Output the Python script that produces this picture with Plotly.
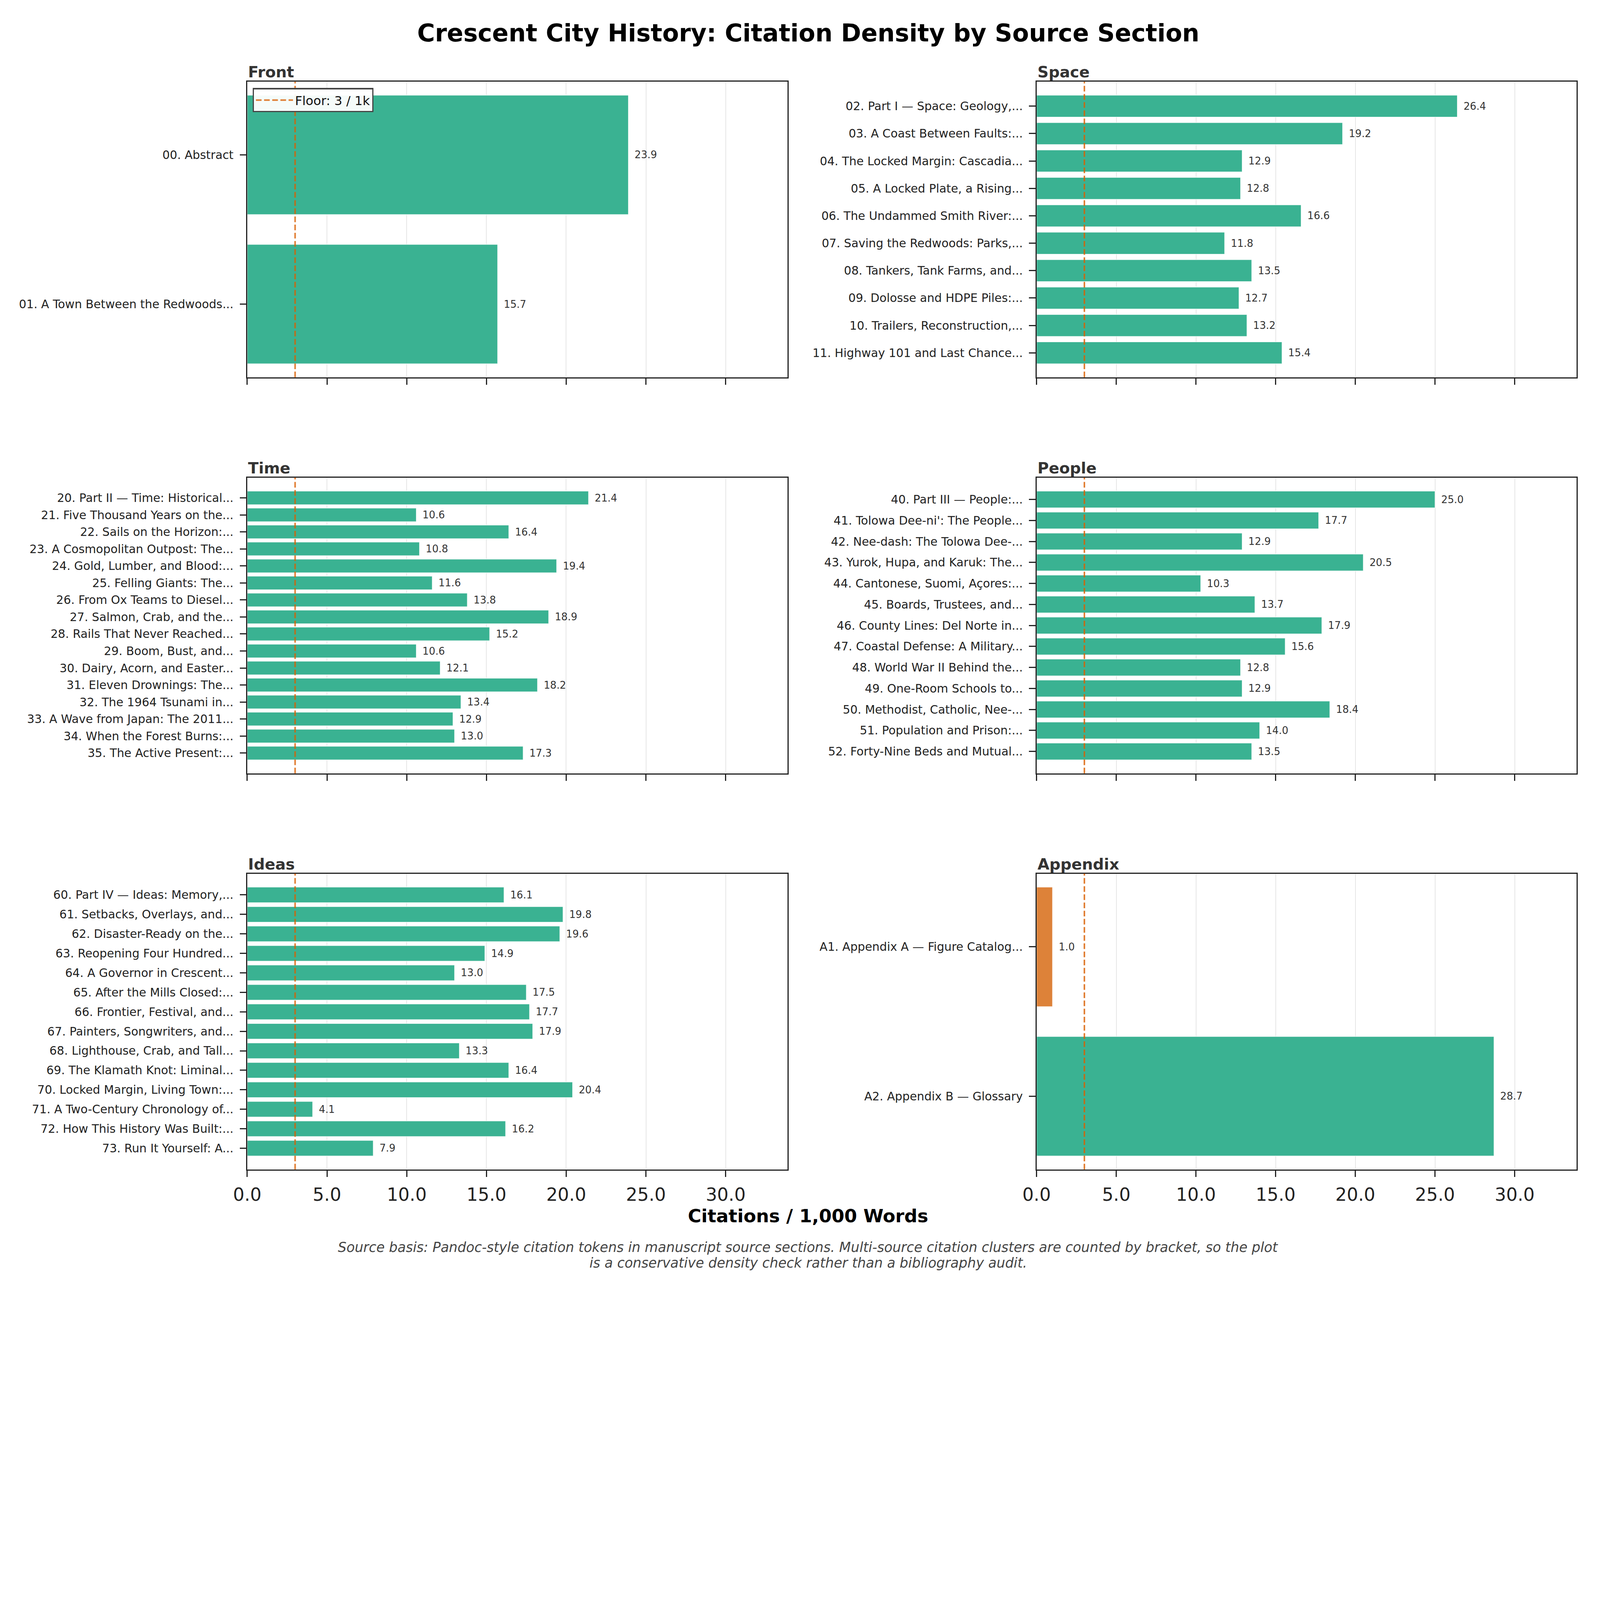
"""Citation density per source section, Crescent City History manuscript."""

import plotly.graph_objects as go

FLOOR = 3.0
X_MAX = 33.87

front_labels = ["00. Abstract", "01. A Town Between the Redwoods..."]
front_values = [23.9, 15.7]

space_labels = [
    "02. Part I — Space: Geology,...",
    "03. A Coast Between Faults:...",
    "04. The Locked Margin: Cascadia...",
    "05. A Locked Plate, a Rising...",
    "06. The Undammed Smith River:...",
    "07. Saving the Redwoods: Parks,...",
    "08. Tankers, Tank Farms, and...",
    "09. Dolosse and HDPE Piles:...",
    "10. Trailers, Reconstruction,...",
    "11. Highway 101 and Last Chance...",
]
space_values = [26.4, 19.2, 12.9, 12.8, 16.6, 11.8, 13.5, 12.7, 13.2, 15.4]

time_labels = [
    "20. Part II — Time: Historical...",
    "21. Five Thousand Years on the...",
    "22. Sails on the Horizon:...",
    "23. A Cosmopolitan Outpost: The...",
    "24. Gold, Lumber, and Blood:...",
    "25. Felling Giants: The...",
    "26. From Ox Teams to Diesel...",
    "27. Salmon, Crab, and the...",
    "28. Rails That Never Reached...",
    "29. Boom, Bust, and...",
    "30. Dairy, Acorn, and Easter...",
    "31. Eleven Drownings: The...",
    "32. The 1964 Tsunami in...",
    "33. A Wave from Japan: The 2011...",
    "34. When the Forest Burns:...",
    "35. The Active Present:...",
]
time_values = [21.4, 10.6, 16.4, 10.8, 19.4, 11.6, 13.8, 18.9, 15.2, 10.6,
               12.1, 18.2, 13.4, 12.9, 13.0, 17.3]

people_labels = [
    "40. Part III — People:...",
    "41. Tolowa Dee-ni': The People...",
    "42. Nee-dash: The Tolowa Dee-...",
    "43. Yurok, Hupa, and Karuk: The...",
    "44. Cantonese, Suomi, Açores:...",
    "45. Boards, Trustees, and...",
    "46. County Lines: Del Norte in...",
    "47. Coastal Defense: A Military...",
    "48. World War II Behind the...",
    "49. One-Room Schools to...",
    "50. Methodist, Catholic, Nee-...",
    "51. Population and Prison:...",
    "52. Forty-Nine Beds and Mutual...",
]
people_values = [25.0, 17.7, 12.9, 20.5, 10.3, 13.7, 17.9, 15.6, 12.8, 12.9,
                 18.4, 14.0, 13.5]

ideas_labels = [
    "60. Part IV — Ideas: Memory,...",
    "61. Setbacks, Overlays, and...",
    "62. Disaster-Ready on the...",
    "63. Reopening Four Hundred...",
    "64. A Governor in Crescent...",
    "65. After the Mills Closed:...",
    "66. Frontier, Festival, and...",
    "67. Painters, Songwriters, and...",
    "68. Lighthouse, Crab, and Tall...",
    "69. The Klamath Knot: Liminal...",
    "70. Locked Margin, Living Town:...",
    "71. A Two-Century Chronology of...",
    "72. How This History Was Built:...",
    "73. Run It Yourself: A...",
]
ideas_values = [16.1, 19.8, 19.6, 14.9, 13.0, 17.5, 17.7, 17.9, 13.3, 16.4,
                20.4, 4.1, 16.2, 7.9]

appendix_labels = ["A1. Appendix A — Figure Catalog...", "A2. Appendix B — Glossary"]
appendix_values = [1.0, 28.7]

panels = [
    ("Front", front_labels, front_values),
    ("Space", space_labels, space_values),
    ("Time", time_labels, time_values),
    ("People", people_labels, people_values),
    ("Ideas", ideas_labels, ideas_values),
    ("Appendix", appendix_labels, appendix_values),
]

GREEN = "#3ab292"
ORANGE = "#dd8239"
FLOOR_COLOR = "rgba(217,95,2,0.8)"
FONT = "DejaVu Sans"

# page is photographed at ~1.24 device px per css px
S = 0.8055
W, H = round(5086 * S), round(4111 * S)


def px(v):
    return v * S


col_domains = [[0.1545, 0.4920], [0.6477, 0.9850]]
row_domains = [[0.7083, 0.9368], [0.4021, 0.6307], [0.0958, 0.3245]]

fig = go.Figure()
layout_axes = {}

for i, (name, labels, values) in enumerate(panels):
    n = i + 1
    sfx = "" if n == 1 else str(n)
    row, col = divmod(i, 2)
    colors = [ORANGE if v < FLOOR else GREEN for v in values]

    fig.add_trace(
        go.Bar(
            x=values,
            y=labels,
            orientation="h",
            marker=dict(color=colors, line=dict(color="rgba(255,255,255,0.8)", width=px(2))),
            texttemplate="\u2002%{x:.1f}",
            textposition="outside",
            textfont=dict(size=px(32), color="#333333", family=FONT),
            constraintext="none",
            cliponaxis=False,
            xaxis="x" + sfx,
            yaxis="y" + sfx,
            showlegend=False,
            hoverinfo="skip",
        )
    )

    pad = 0.4 + 0.05 * (len(values) - 0.2)
    layout_axes["xaxis" + sfx] = dict(
        domain=col_domains[col],
        anchor="y" + sfx,
        range=[0, X_MAX],
        tick0=0,
        dtick=5,
        tickformat=".1f",
        showgrid=True,
        gridcolor="#e6e6e6",
        gridwidth=px(3),
        zeroline=False,
        ticks="outside",
        ticklen=px(20),
        tickwidth=px(4),
        tickcolor="#222222",
        showline=True,
        linecolor="#222222",
        linewidth=px(4),
        mirror=True,
        showticklabels=(row == 2),
        tickfont=dict(size=px(57), color="#222222"),
        ticklabelstandoff=round(px(8)),
        automargin=False,
    )
    layout_axes["yaxis" + sfx] = dict(
        domain=row_domains[row],
        anchor="x" + sfx,
        type="category",
        range=[len(values) - 1 + pad, -pad],
        showgrid=False,
        zeroline=False,
        ticks="outside",
        ticklen=px(20),
        tickwidth=px(4),
        tickcolor="#222222",
        showline=True,
        linecolor="#222222",
        linewidth=px(4),
        mirror=True,
        tickfont=dict(size=px(37), color="#222222"),
        ticklabelstandoff=round(px(12)),
        automargin=False,
    )

    # 3 citations / 1k words floor
    fig.add_shape(
        type="line",
        x0=FLOOR,
        x1=FLOOR,
        y0=0,
        y1=1,
        xref="x" + sfx,
        yref="y" + sfx + " domain",
        line=dict(color=FLOOR_COLOR, width=px(5), dash=f"{px(18):.1f}px,{px(8):.1f}px"),
        layer="above",
        showlegend=(n == 1),
        name="Floor: 3 / 1k",
    )

    fig.add_annotation(
        text=f"<b>{name}</b>",
        x=col_domains[col][0],
        y=row_domains[row][1],
        xref="paper",
        yref="paper",
        xanchor="left",
        yanchor="bottom",
        showarrow=False,
        font=dict(size=px(49), color="#333333"),
    )

fig.add_annotation(
    text="<b>Crescent City History: Citation Density by Source Section</b>",
    x=0.505, y=0.9745, xref="paper", yref="paper",
    xanchor="center", yanchor="middle", showarrow=False,
    font=dict(size=px(77), color="#000000"),
)
fig.add_annotation(
    text="<b>Citations / 1,000 Words</b>",
    x=0.505, y=0.0598, xref="paper", yref="paper",
    xanchor="center", yanchor="middle", showarrow=False,
    font=dict(size=px(58), color="#000000"),
)
footnote = [
    "Source basis: Pandoc-style citation tokens in manuscript source sections. "
    "Multi-source citation clusters are counted by bracket, so the plot",
    "is a conservative density check rather than a bibliography audit.",
]
for k, line in enumerate(footnote):
    fig.add_annotation(
        text=f"<i>{line}</i>",
        x=0.505, y=1 - (3965 + 49 * k) / 4111, xref="paper", yref="paper",
        xanchor="center", yanchor="middle", showarrow=False,
        font=dict(size=px(43), color="#444444"),
    )

fig.update_layout(
    **layout_axes,
    template="none",
    width=W,
    height=H,
    autosize=False,
    margin=dict(l=0, r=0, t=0, b=0),
    paper_bgcolor="white",
    plot_bgcolor="white",
    font=dict(family=FONT, color="#222222"),
    bargap=0.2,
    showlegend=True,
    legend=dict(
        x=0.1579,
        y=0.9319,
        xanchor="left",
        yanchor="top",
        bgcolor="rgba(255,255,255,0.95)",
        bordercolor="#444444",
        borderwidth=px(4),
        font=dict(size=px(40), color="#111111"),
        itemwidth=round(px(118)),
    ),
)

fig.write_html(
    "out.html",
    config={"displayModeBar": False},
    post_script="document.body.style.margin = '0px';",
)
